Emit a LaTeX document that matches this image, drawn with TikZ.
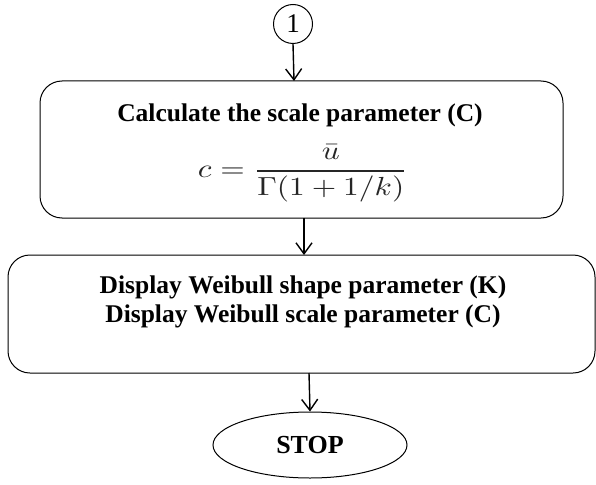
\RequirePackage{fix-cm}
\documentclass[tikz,border=0pt]{standalone}
\usepackage{amsmath}
\usepackage{graphicx}
\usepackage{fontspec}
\setmainfont{Liberation Serif}
\usetikzlibrary{arrows.meta,shapes.geometric}
\begin{document}
\begin{tikzpicture}[x=1pt,y=-1pt,
  box/.style={draw, line width=1pt, rounded corners=22pt, inner sep=0pt},
  conn/.style={-{Straight Barb[length=11pt,width=16pt,line width=1.4pt]}, line width=1.4pt},
  lbl/.style={font=\fontsize{25.5}{29}\selectfont\bfseries, align=center, inner sep=0pt}]
\useasboundingbox (0,0) rectangle (596,484);
\node[draw, circle, line width=1pt, minimum size=39pt, inner sep=0pt, font=\fontsize{27}{28}\selectfont] (one) at (293,24) {1};
\draw[box] (40,81) rectangle (563,218);
\coordinate (b1top) at (294,81);
\coordinate (b1bot) at (304,218);
\node[lbl] (t1) at (300,115) {Calculate the scale parameter (C)};
\node[text=black!85, inner sep=0pt] (f1) at (303,173.5) {\resizebox*{210pt}{57pt}{$\displaystyle c=\frac{\bar{u}}{\Gamma(1+1/k)}$}};
\draw[box] (8,255) rectangle (595,373);
\coordinate (b2top) at (304,255);
\coordinate (b2bot) at (309,373);
\node[lbl] (t2) at (303,302) {Display Weibull shape parameter (K)\\Display Weibull scale parameter (C)};
\node[draw, ellipse, line width=1pt, minimum width=194pt, minimum height=66pt, inner sep=0pt, font=\fontsize{26}{28}\selectfont\bfseries] (stop) at (310,445) {STOP};
\draw[conn] (one.south) -- (b1top);
\draw[conn] (b1bot) -- (b2top);
\draw[conn] (b2bot) -- (stop.north);
\end{tikzpicture}
\end{document}
